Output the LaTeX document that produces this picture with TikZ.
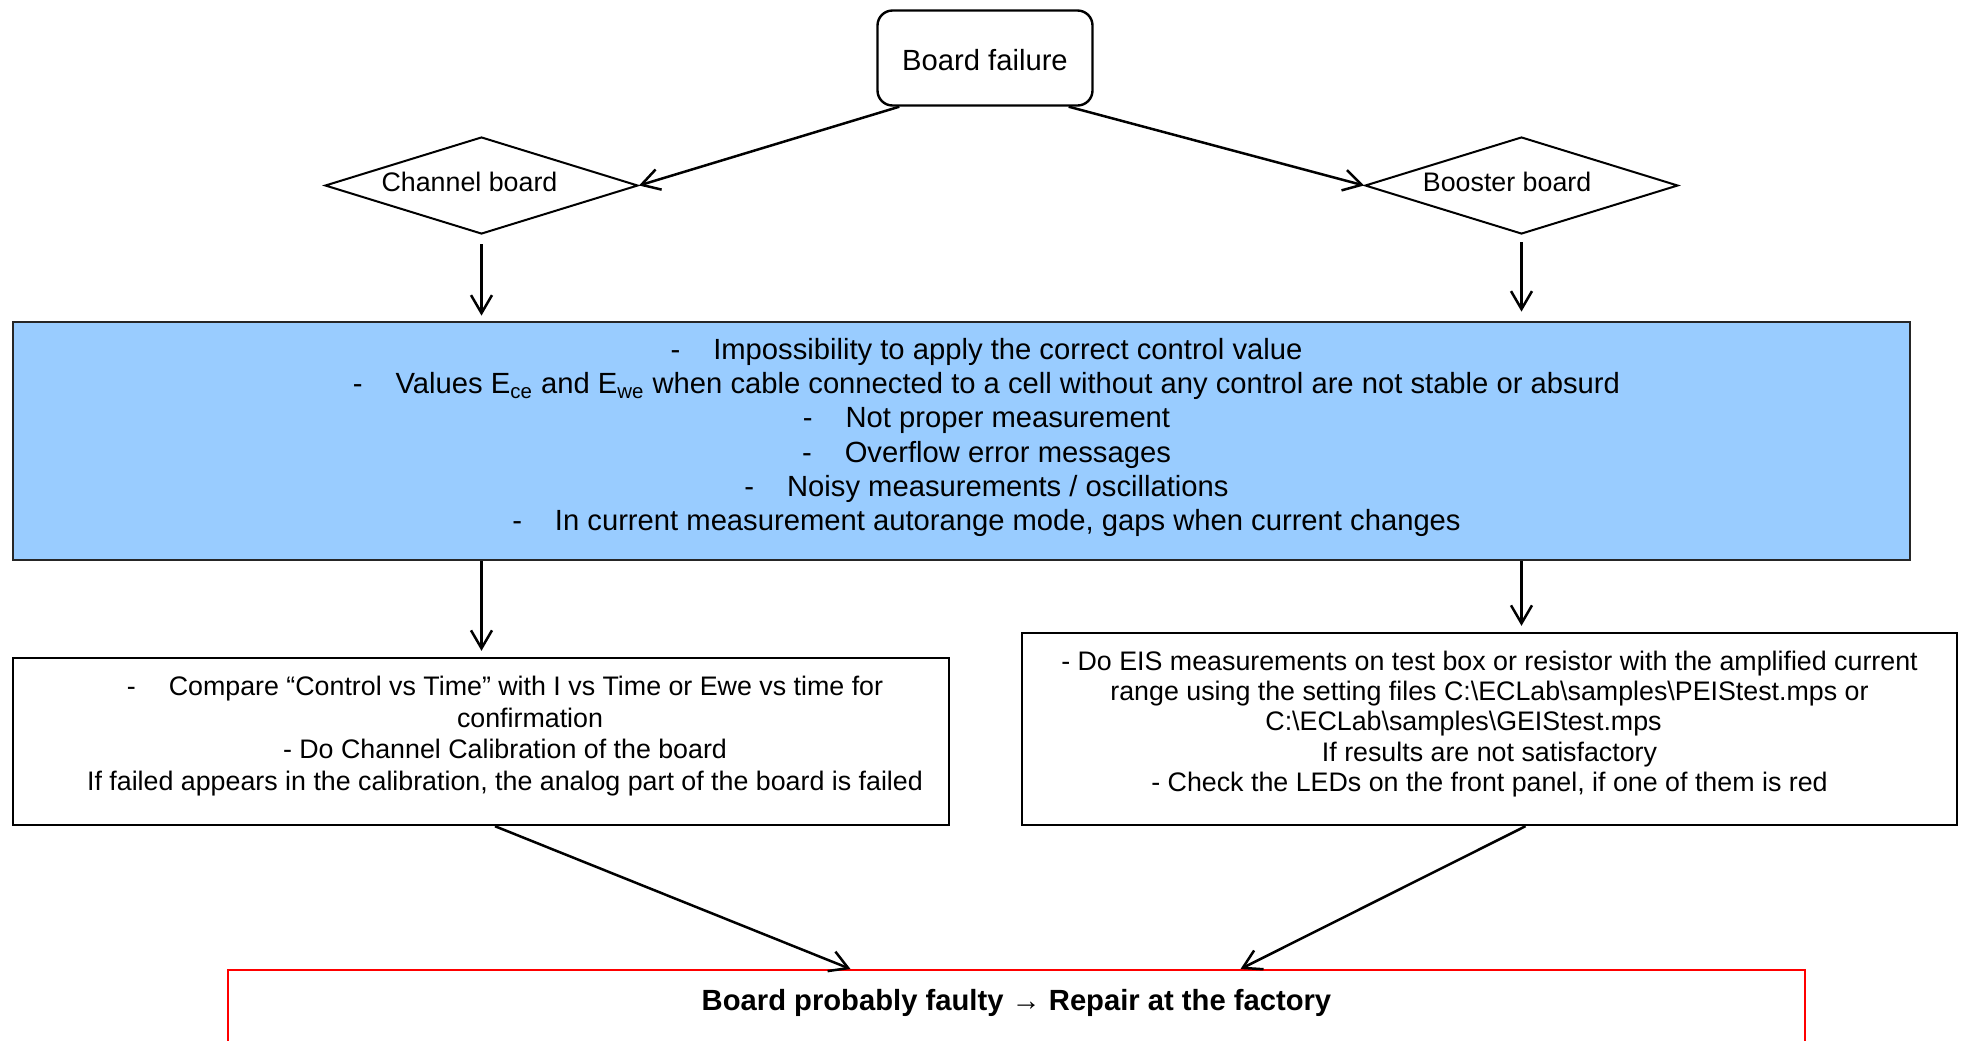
\documentclass[tikz,border=0pt]{standalone}
\usepackage{fontspec}
\setmainfont{Liberation Sans}
\usepackage{xcolor}
\usepackage{tikz}
\usetikzlibrary{positioning, calc}
\usetikzlibrary{arrows.meta, shapes.geometric}
\tikzset{
	txt/.style={font=\fontsize{#1}{1.17\dimexpr#1\relax}\selectfont, align=center},
	txt/.default=14.6pt,
	arr/.style={-{Straight Barb[length=9pt, width=10.5pt]}, line width=1.25pt},
	start box/.style={draw, line width=1.2pt, rounded corners=7.5pt, minimum width=107.5pt, minimum height=47.5pt, text height=13pt, font=\fontsize{14.6pt}{17pt}\selectfont},
	choice/.style={diamond, draw, line width=1pt, aspect=3.2, inner sep=0pt, minimum width=156.5pt, minimum height=48.5pt, text depth=4pt, font=\fontsize{13.4pt}{16pt}\selectfont},
	plain box/.style={draw, line width=1.2pt, inner sep=0pt},
	faulty/.style={draw=red, line width=0.75pt, anchor=north, minimum width=788.5pt, inner ysep=10pt, text depth=45pt, font=\fontsize{14.6pt}{17pt}\selectfont\bfseries},
}
\definecolor{SympBlue}{RGB}{153, 204, 255}
\newcommand{\dashtab}{-\hspace{16.5pt}}
\newcommand{\bsl}{\textbackslash}
\newcommand{\nudge}[2]{\mbox{\hspace{#1}#2\hspace{-#1}}}

\begin{document}
\begin{tikzpicture}[x=0.5pt, y=-0.5pt]
\useasboundingbox (0,0) rectangle (1966,1040);

\node[start box] (fail) at (985, 58) {Board failure};
\node[choice] (chan) at (481.5, 185.5) {\nudge{-6pt}{Channel board}};
\node[choice] (boost) at (1521.5, 185.5) {\nudge{-7.2pt}{Booster board}};

\node[plain box, fill=SympBlue, draw=black!85, line width=1.4pt, minimum width=948.5pt, minimum height=119pt] (symp) at (961.5, 441) {};
\node[txt] (symptxt) at ([xshift=12.5pt, yshift=1.75pt]symp.center) {\dashtab Impossibility to apply the correct control value\\
\dashtab Values E\textsubscript{ce} and E\textsubscript{we} when cable connected to a cell without any control are not stable or absurd\\
\dashtab Not proper measurement\\
\dashtab Overflow error messages\\
\dashtab Noisy measurements / oscillations\\
\dashtab In current measurement autorange mode, gaps when current changes};

\node[plain box, minimum width=468pt, minimum height=83.5pt] (check) at (481, 741.5) {};
\node[txt=13.4pt, font=\fontsize{13.4pt}{15.9pt}\selectfont] (checktxt) at ([xshift=12pt, yshift=2.75pt]check.center) {\dashtab Compare “Control vs Time” with I vs Time or Ewe vs time for\\
\nudge{12.5pt}{confirmation}\\
- Do Channel Calibration of the board\\
If failed appears in the calibration, the analog part of the board is failed};

\node[plain box, minimum width=467.5pt, minimum height=96pt] (eis) at (1489.5, 729) {};
\node[txt=13.4pt, font=\fontsize{13.4pt}{15.2pt}\selectfont] (eistxt) at ([yshift=2.5pt]eis.center) {- Do EIS measurements on test box or resistor with the amplified current\\
range using the setting files C:\bsl ECLab\bsl samples\bsl PEIStest.mps or\\
\nudge{-13pt}{C:\bsl ECLab\bsl samples\bsl GEIStest.mps}\\
If results are not satisfactory\\
- Check the LEDs on the front panel, if one of them is red};

\node[faulty, align=center] (repair) at (1016.5, 969) {Board probably faulty → Repair at the factory};

\draw[arr] ([xshift=11.5pt]fail.south west) -- (chan.east);
\draw[arr] ([xshift=-12.5pt]fail.south east) -- (boost.west);
\draw[arr, shorten <=4.5pt, shorten >=2.5pt] (chan.south) -- (chan.south |- symp.north);
\draw[arr, shorten <=3.5pt, shorten >=4.5pt] (boost.south) -- (boost.south |- symp.north);
\draw[arr, shorten >=3pt] (chan.south |- symp.south) -- (chan.south |- check.north);
\draw[arr, shorten >=3pt] (boost.south |- symp.south) -- (boost.south |- eis.north);
\draw[arr] ([xshift=7pt]check.south) -- ([xshift=-83pt]repair.north);
\draw[arr] ([xshift=18pt]eis.south) -- ([xshift=112pt]repair.north);

\end{tikzpicture}
\end{document}
